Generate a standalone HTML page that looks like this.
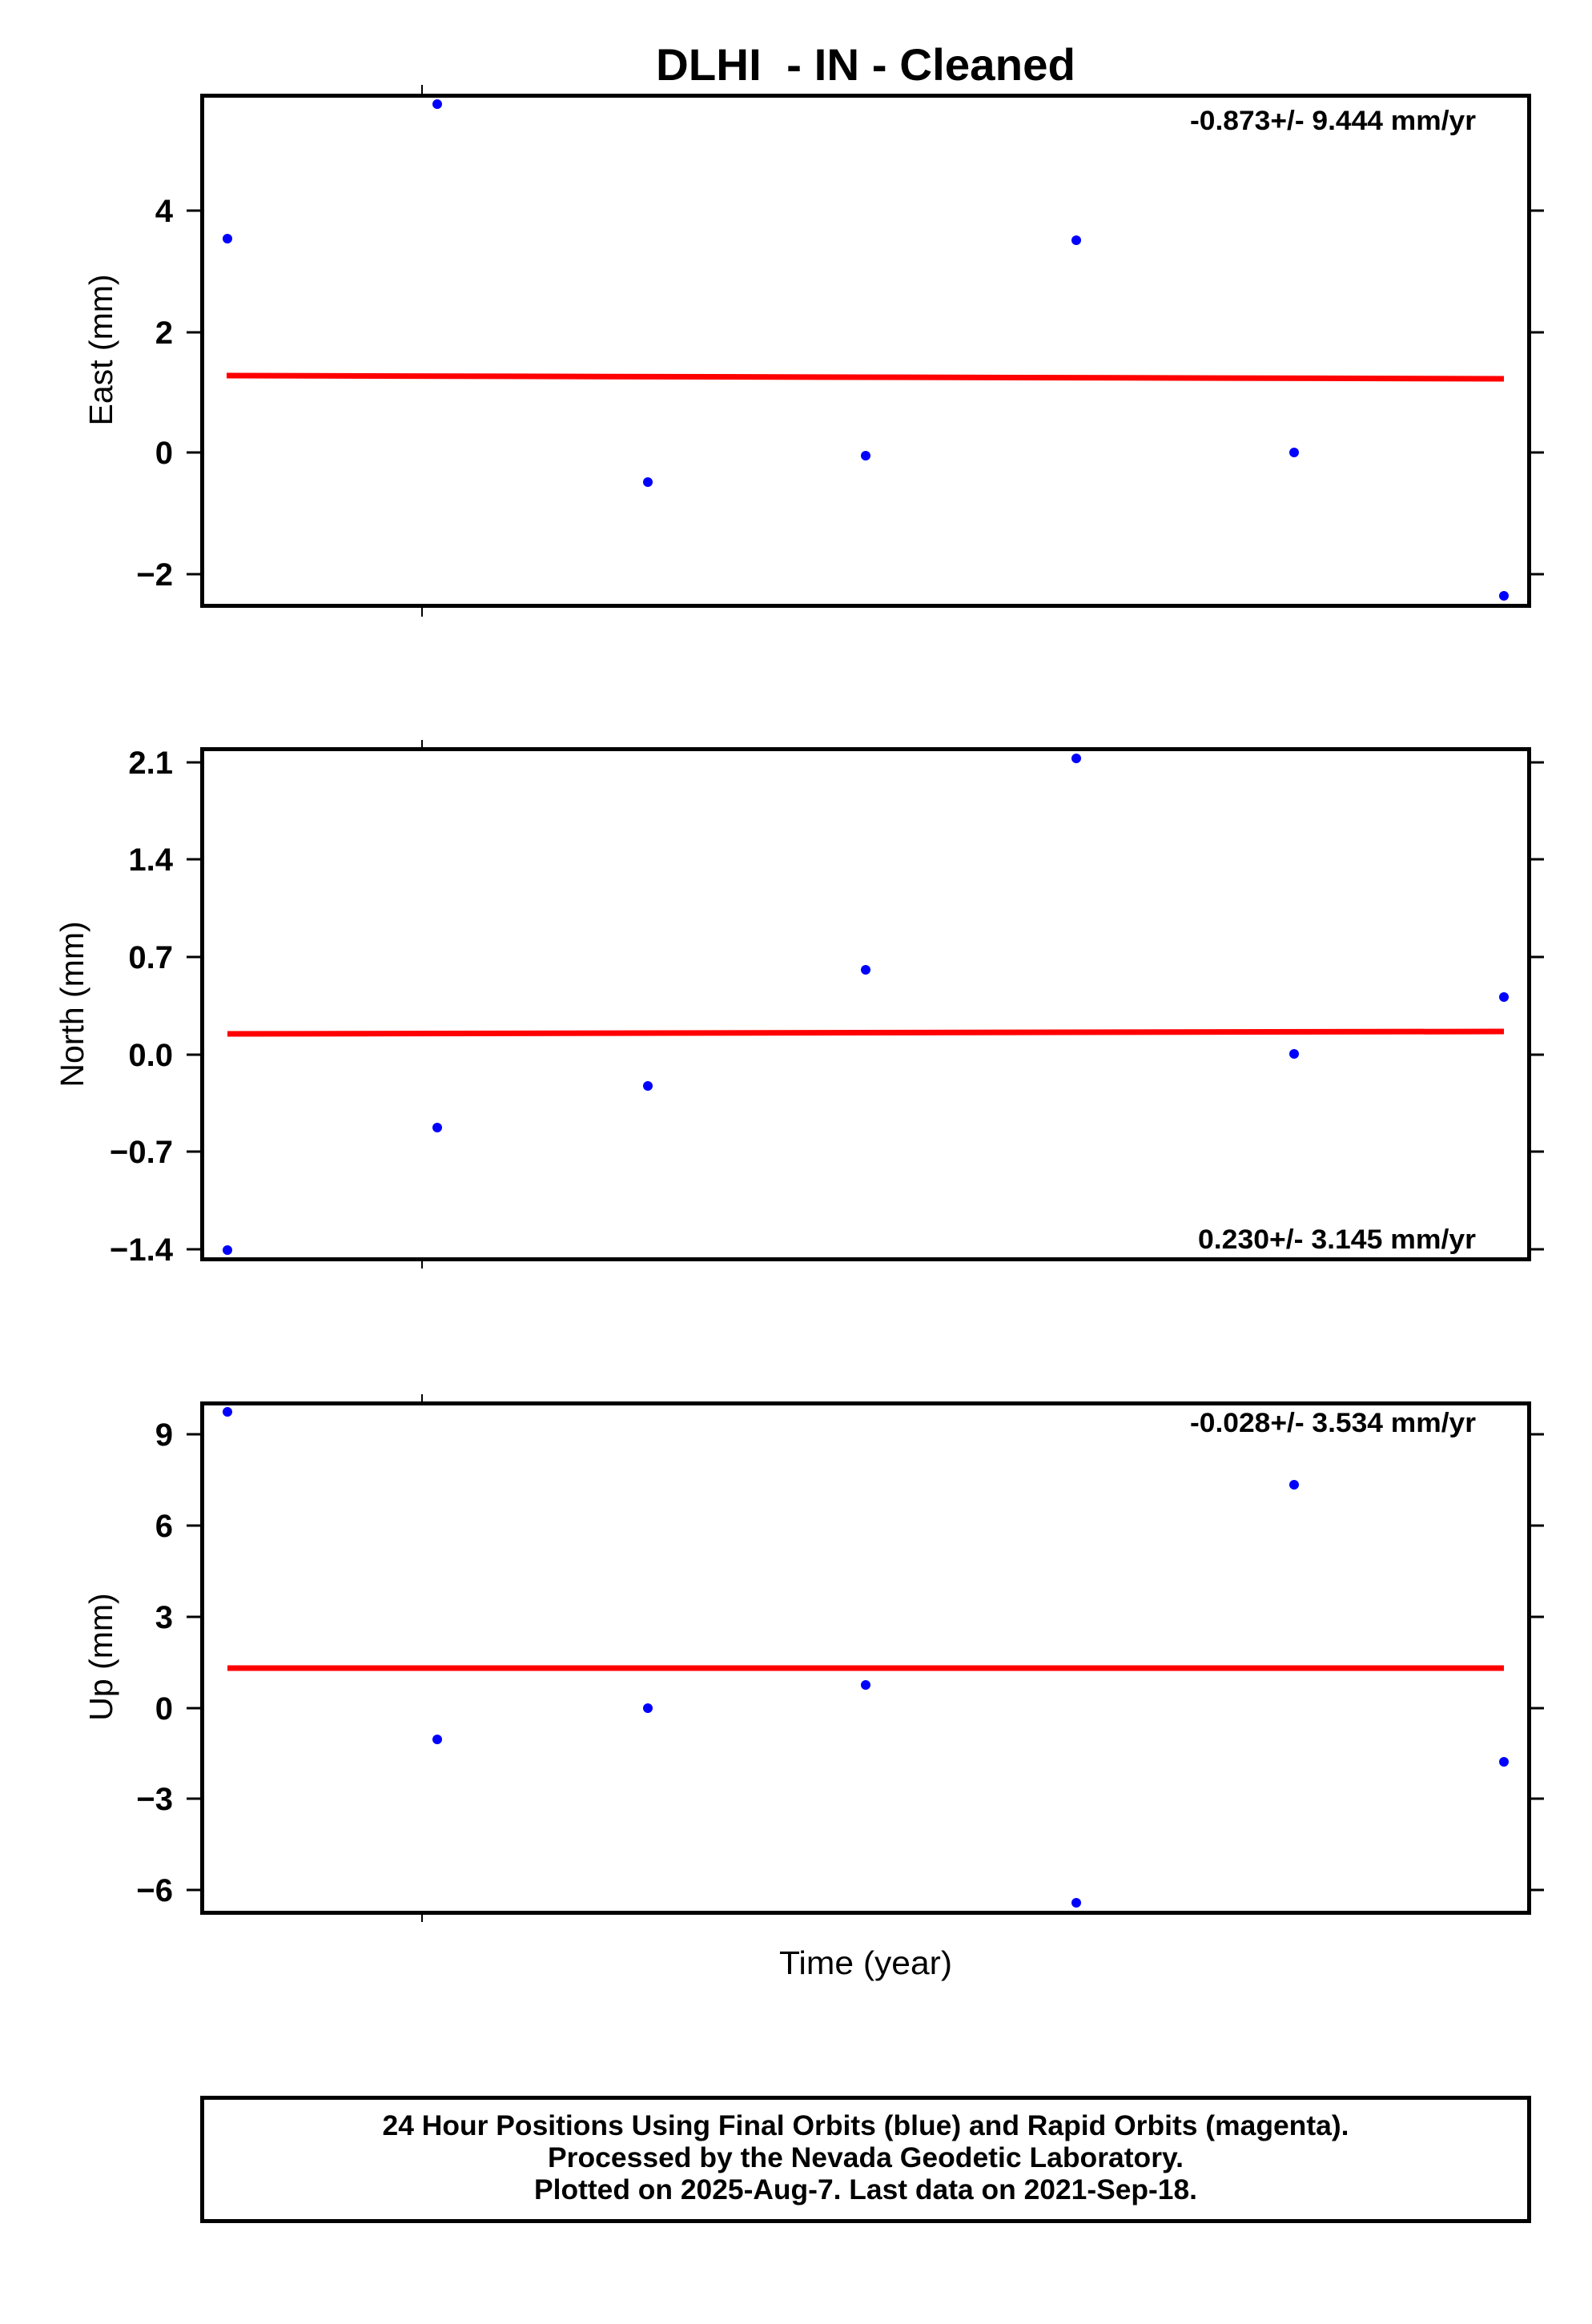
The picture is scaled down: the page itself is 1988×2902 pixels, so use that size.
<!DOCTYPE html>
<html><head><meta charset="utf-8"><style>
html,body{margin:0;padding:0;background:#fff;}
svg{display:block;}
text{font-family:"Liberation Sans",sans-serif;fill:#000;white-space:pre;}
.b{font-weight:bold;}
</style></head><body>
<svg width="1988" height="2902" viewBox="0 0 1988 2902" xmlns="http://www.w3.org/2000/svg">
<rect width="1988" height="2902" fill="#fff"/>
<text x="1081" y="100" class="b" font-size="56" text-anchor="middle" textLength="524" lengthAdjust="spacingAndGlyphs" xml:space="preserve">DLHI  - IN - Cleaned</text>

<!-- Panel 1 East -->
<g stroke="#000" stroke-width="3">
<line x1="233" y1="263" x2="252" y2="263"/><line x1="233" y1="415" x2="252" y2="415"/>
<line x1="233" y1="565" x2="252" y2="565"/><line x1="233" y1="717" x2="252" y2="717"/>
<line x1="1910" y1="263" x2="1928" y2="263"/><line x1="1910" y1="415" x2="1928" y2="415"/>
<line x1="1910" y1="565" x2="1928" y2="565"/><line x1="1910" y1="717" x2="1928" y2="717"/>
<line x1="527" y1="106" x2="527" y2="120" stroke-width="2"/><line x1="527" y1="756" x2="527" y2="770" stroke-width="2"/>
</g>
<g class="b" font-size="40" text-anchor="end">
<text x="216" y="277" class="b">4</text><text x="216" y="429" class="b">2</text>
<text x="216" y="579" class="b">0</text><text x="216" y="731" class="b">−2</text>
</g>
<text transform="translate(140,437) rotate(-90)" font-size="41" text-anchor="middle">East (mm)</text>
<line x1="283" y1="469" x2="1878" y2="473" stroke="#f00" stroke-width="7"/>
<g fill="#00f">
<circle cx="284" cy="298" r="6"/><circle cx="546" cy="130" r="6"/><circle cx="809" cy="602" r="6"/>
<circle cx="1081" cy="569" r="6"/><circle cx="1344" cy="300" r="6"/><circle cx="1616" cy="565" r="6"/>
<circle cx="1878" cy="744" r="6"/>
</g>
<text x="1843" y="162" class="b" font-size="34" text-anchor="end" textLength="357" lengthAdjust="spacingAndGlyphs">-0.873+/- 9.444 mm/yr</text>
<rect x="252.5" y="119.5" width="1657" height="637" fill="none" stroke="#000" stroke-width="5"/>

<!-- Panel 2 North -->
<g stroke="#000" stroke-width="3">
<line x1="233" y1="952" x2="252" y2="952"/><line x1="233" y1="1073" x2="252" y2="1073"/>
<line x1="233" y1="1195" x2="252" y2="1195"/><line x1="233" y1="1317" x2="252" y2="1317"/>
<line x1="233" y1="1438" x2="252" y2="1438"/><line x1="233" y1="1560" x2="252" y2="1560"/>
<line x1="1910" y1="952" x2="1928" y2="952"/><line x1="1910" y1="1073" x2="1928" y2="1073"/>
<line x1="1910" y1="1195" x2="1928" y2="1195"/><line x1="1910" y1="1317" x2="1928" y2="1317"/>
<line x1="1910" y1="1438" x2="1928" y2="1438"/><line x1="1910" y1="1560" x2="1928" y2="1560"/>
<line x1="527" y1="924" x2="527" y2="936" stroke-width="2"/><line x1="527" y1="1570" x2="527" y2="1584" stroke-width="2"/>
</g>
<g font-size="40" text-anchor="end">
<text x="216" y="966" class="b">2.1</text><text x="216" y="1087" class="b">1.4</text>
<text x="216" y="1209" class="b">0.7</text><text x="216" y="1331" class="b">0.0</text>
<text x="216" y="1452" class="b">−0.7</text><text x="216" y="1574" class="b">−1.4</text>
</g>
<text transform="translate(104,1254) rotate(-90)" font-size="41" text-anchor="middle">North (mm)</text>
<line x1="284" y1="1291" x2="1878" y2="1288" stroke="#f00" stroke-width="7"/>
<g fill="#00f">
<circle cx="284" cy="1561" r="6"/><circle cx="546" cy="1408" r="6"/><circle cx="809" cy="1356" r="6"/>
<circle cx="1081" cy="1211" r="6"/><circle cx="1344" cy="947" r="6"/><circle cx="1616" cy="1316" r="6"/>
<circle cx="1878" cy="1245" r="6"/>
</g>
<text x="1843" y="1559" class="b" font-size="34" text-anchor="end" textLength="347" lengthAdjust="spacingAndGlyphs">0.230+/- 3.145 mm/yr</text>
<rect x="252.5" y="935.5" width="1657" height="637" fill="none" stroke="#000" stroke-width="5"/>

<!-- Panel 3 Up -->
<g stroke="#000" stroke-width="3">
<line x1="233" y1="1791" x2="252" y2="1791"/><line x1="233" y1="1905" x2="252" y2="1905"/>
<line x1="233" y1="2019" x2="252" y2="2019"/><line x1="233" y1="2133" x2="252" y2="2133"/>
<line x1="233" y1="2246" x2="252" y2="2246"/><line x1="233" y1="2360" x2="252" y2="2360"/>
<line x1="1910" y1="1791" x2="1928" y2="1791"/><line x1="1910" y1="1905" x2="1928" y2="1905"/>
<line x1="1910" y1="2019" x2="1928" y2="2019"/><line x1="1910" y1="2133" x2="1928" y2="2133"/>
<line x1="1910" y1="2246" x2="1928" y2="2246"/><line x1="1910" y1="2360" x2="1928" y2="2360"/>
<line x1="527" y1="1741" x2="527" y2="1753" stroke-width="2"/><line x1="527" y1="2388" x2="527" y2="2400" stroke-width="2"/>
</g>
<g font-size="40" text-anchor="end">
<text x="216" y="1805" class="b">9</text><text x="216" y="1919" class="b">6</text>
<text x="216" y="2033" class="b">3</text><text x="216" y="2147" class="b">0</text>
<text x="216" y="2260" class="b">−3</text><text x="216" y="2374" class="b">−6</text>
</g>
<text transform="translate(140,2069) rotate(-90)" font-size="41" text-anchor="middle">Up (mm)</text>
<line x1="284" y1="2083" x2="1878" y2="2083" stroke="#f00" stroke-width="7"/>
<g fill="#00f">
<circle cx="284" cy="1763" r="6"/><circle cx="546" cy="2172" r="6"/><circle cx="809" cy="2133" r="6"/>
<circle cx="1081" cy="2104" r="6"/><circle cx="1344" cy="2376" r="6"/><circle cx="1616" cy="1854" r="6"/>
<circle cx="1878" cy="2200" r="6"/>
</g>
<text x="1843" y="1788" class="b" font-size="34" text-anchor="end" textLength="357" lengthAdjust="spacingAndGlyphs">-0.028+/- 3.534 mm/yr</text>
<rect x="252.5" y="1752.5" width="1657" height="636" fill="none" stroke="#000" stroke-width="5"/>

<text x="1081" y="2465" font-size="41" text-anchor="middle" textLength="216" lengthAdjust="spacingAndGlyphs">Time (year)</text>

<rect x="252.5" y="2619.5" width="1657" height="154" fill="none" stroke="#000" stroke-width="5"/>
<g font-size="35" text-anchor="middle">
<text x="1081" y="2666" class="b" textLength="1207" lengthAdjust="spacingAndGlyphs">24 Hour Positions Using Final Orbits (blue) and Rapid Orbits (magenta).</text>
<text x="1081" y="2706" class="b" textLength="794" lengthAdjust="spacingAndGlyphs">Processed by the Nevada Geodetic Laboratory.</text>
<text x="1081" y="2746" class="b" textLength="828" lengthAdjust="spacingAndGlyphs">Plotted on 2025-Aug-7. Last data on 2021-Sep-18.</text>
</g>
</svg>
</body></html>
